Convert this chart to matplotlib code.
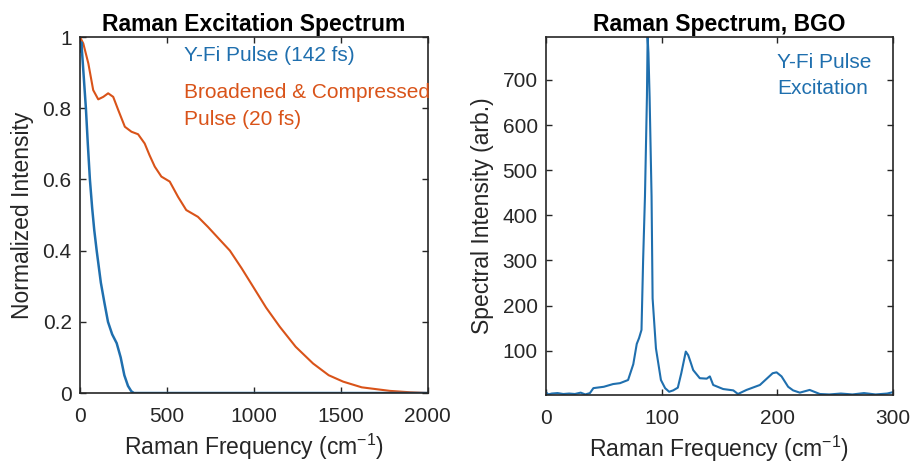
import numpy as np
import matplotlib
matplotlib.use('Agg')
import matplotlib.pyplot as plt
from matplotlib import rc
rc('font', **{'family': 'sans-serif', 'sans-serif': ['Liberation Sans', 'DejaVu Sans']})
rc('mathtext', fontset='custom', rm='Liberation Sans', it='Liberation Sans')

blue = '#1f6fae'
orange = '#d95319'

# excitation spectra (left panel)
yfi_freq = [0, 8, 20, 34, 45, 57, 70, 82, 96, 120, 140, 161, 185, 211, 234,
            255, 276, 295, 310, 400, 800, 1200, 1600, 2000]
yfi_int = [0.96, 0.985, 0.9, 0.8, 0.7, 0.6, 0.52, 0.458, 0.4, 0.31, 0.255,
           0.2, 0.165, 0.14, 0.1, 0.05, 0.02, 0.005, 0.0, 0.0, 0.0, 0.0, 0.0, 0.0]

comp_freq = [0, 19, 48, 76, 105, 134, 162, 191, 220, 258, 296, 334, 372, 400,
             430, 468, 516, 564, 611, 678, 735, 805, 862, 930, 995, 1070, 1149,
             1240, 1340, 1430, 1513, 1620, 1782, 1900, 2000]
comp_int = [1.0, 0.982, 0.926, 0.851, 0.825, 0.832, 0.842, 0.832, 0.795,
            0.748, 0.734, 0.727, 0.701, 0.668, 0.636, 0.608, 0.594, 0.551,
            0.514, 0.495, 0.467, 0.43, 0.40, 0.35, 0.299, 0.24, 0.186, 0.13,
            0.083, 0.05, 0.032, 0.016, 0.006, 0.002, 0.0]

# BGO raman spectrum (right panel)
bgo_freq = [0, 2, 5, 10, 15, 20, 25, 30, 34, 38, 41, 50, 58, 64, 71, 75.5,
            78.5, 80.5, 82.6, 84, 85.6, 87.3, 87.9, 88.6, 89.6, 91.3, 92.2,
            95.1, 99.4, 103, 106.5, 110, 114, 117, 120.9, 123, 125, 127.3, 133,
            139, 141.7, 144.6, 153.2, 162, 166, 173.4, 185, 196, 199.4, 203.7,
            209.4, 213.7, 219.5, 228, 236.8, 245, 255, 265, 275, 285, 295, 300]
bgo_int = [8, 3, 5, 6, 4, 5, 4, 7, 3, 6, 17, 20, 26, 28, 35, 70,
           115, 128, 146, 300, 442, 663, 795, 760, 663, 442, 216,
           105, 35, 17, 9, 12, 18, 50, 98, 90, 75, 57, 39,
           38, 43, 24, 15, 12, 4, 13, 24, 50, 52, 43,
           20, 12, 7, 13, 4, 3, 5, 3, 6, 3, 5, 8]

fig = plt.figure(figsize=(9.13, 4.69), dpi=100)
ax1 = fig.add_axes([0.0876, 0.162, 0.381, 0.759])
ax2 = fig.add_axes([0.598, 0.158, 0.380, 0.763])

for ax in (ax1, ax2):
    ax.tick_params(direction='in', top=True, right=True, length=4,
                   labelsize=15, colors='#262626', width=1)
    ax.tick_params(axis='x', pad=10)
    ax.tick_params(axis='y', pad=6)
    for s in ax.spines.values():
        s.set_color('#262626')
        s.set_linewidth(1.2)

ax1.plot(comp_freq, comp_int, color=orange, lw=1.5)
ax1.plot(yfi_freq, yfi_int, color=blue, lw=1.8)
ax1.set_xlim(0, 2000)
ax1.set_ylim(0, 1)
ax1.set_xticks([0, 500, 1000, 1500, 2000])
ax1.set_yticks([0, 0.2, 0.4, 0.6, 0.8, 1])
ax1.set_yticklabels(['0', '0.2', '0.4', '0.6', '0.8', '1'])
ax1.set_xlabel('Raman Frequency (cm$^{-1}$)', fontsize=16.5, color='#262626', labelpad=4)
ax1.set_ylabel('Normalized Intensity', fontsize=16.5, color='#262626', labelpad=6)
ax1.set_title('Raman Excitation Spectrum', fontsize=16.5, fontweight='bold', pad=4)
ax1.text(0.30, 0.949, 'Y-Fi Pulse (142 fs)', color=blue, fontsize=15,
         va='center', transform=ax1.transAxes)
ax1.text(0.30, 0.843, 'Broadened & Compressed', color=orange, fontsize=15,
         va='center', transform=ax1.transAxes)
ax1.text(0.30, 0.767, 'Pulse (20 fs)', color=orange, fontsize=15,
         va='center', transform=ax1.transAxes)

ax2.plot(bgo_freq, bgo_int, color=blue, lw=1.5)
ax2.set_xlim(0, 300)
ax2.set_ylim(2, 795)
ax2.set_xticks([0, 100, 200, 300])
ax2.set_yticks([100, 200, 300, 400, 500, 600, 700])
ax2.set_xlabel('Raman Frequency (cm$^{-1}$)', fontsize=16.5, color='#262626', labelpad=4)
ax2.set_ylabel('Spectral Intensity (arb.)', fontsize=16.5, color='#262626', labelpad=6)
ax2.set_title('Raman Spectrum, BGO', fontsize=16.5, fontweight='bold', pad=4)
ax2.text(0.666, 0.930, 'Y-Fi Pulse', color=blue, fontsize=15,
         va='center', transform=ax2.transAxes)
ax2.text(0.666, 0.855, 'Excitation', color=blue, fontsize=15,
         va='center', transform=ax2.transAxes)

plt.savefig('out.png', dpi=100)
